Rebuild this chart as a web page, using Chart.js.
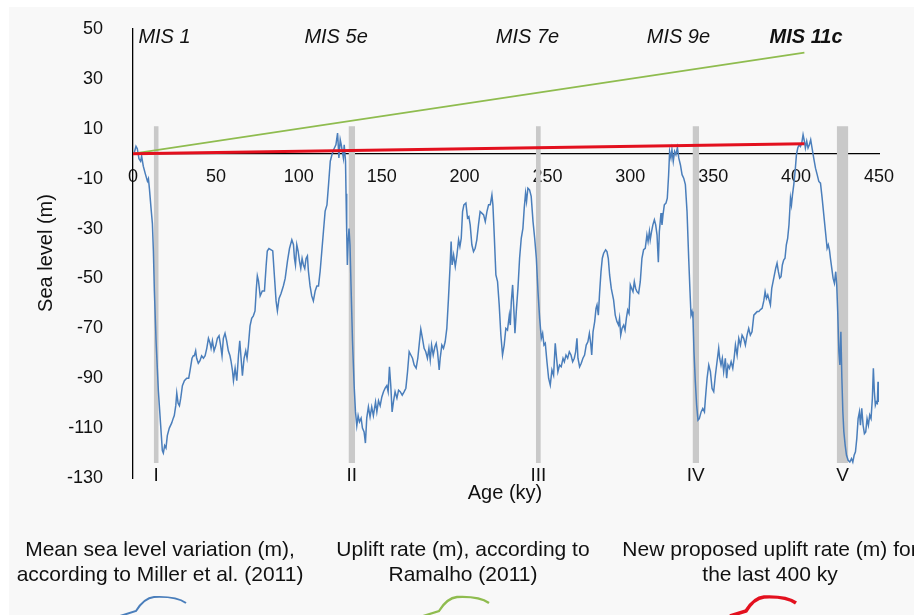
<!DOCTYPE html>
<html>
<head>
<meta charset="utf-8">
<script src="https://cdn.jsdelivr.net/npm/chart.js@4.4.1/dist/chart.umd.min.js"></script>
<style>
  html, body { margin: 0; padding: 0; background: #fff; }
</style>
</head>
<body>
<canvas id="seaChart" width="914" height="615"></canvas>
<script>
// ---- data ----
const ageKy = [
  0.6, 1.8, 2.6, 3.6, 4.6, 5.2, 6.2, 7.4, 8.7, 9.3, 9.9, 10.9, 11.7, 12.3, 12.9, 13.9, 15.3, 16.7, 17.7, 18.3,
  19.1, 19.9, 20.7, 21.9, 23.3, 24.3, 24.9, 25.8, 26.4, 27.2, 28, 28.8, 29.8, 31, 32.4, 33.6, 34.4, 35.6, 36.4, 37,
  37.8, 38.4, 39.4, 40.4, 41.4, 42.5, 43.5, 44.5, 45.5, 46.5, 47.1, 47.9, 48.9, 49.9, 50.9, 51.9, 52.9, 53.7, 54.5, 55.5,
  56.5, 57.5, 58.5, 59.1, 60, 60.6, 61.6, 62.6, 63.6, 64.4, 65.2, 66, 67, 68, 68.8, 69.6, 70.6, 71.6, 72.6, 73.6,
  74.4, 75, 75.7, 76.7, 78, 79.3, 80.3, 81, 82, 83.3, 84.3, 85.3, 86.3, 87.1, 88.1, 89.3, 90.7, 91.8, 93.2, 94.4,
  95.8, 96.8, 97.4, 98, 98.8, 99.6, 100.4, 101.2, 102, 102.8, 103.6, 104.4, 105.2, 105.8, 106.8, 107.8, 108.8, 109.9, 110.9, 111.9,
  112.9, 113.9, 114.9, 115.9, 117, 118, 119, 120, 121, 122.4, 123.4, 123.8, 124.2, 125, 125.6, 126.9, 127.4, 128.2, 128.5, 128.9,
  129.3, 129.8, 130.3, 130.9, 131.6, 132.4, 133.4, 134.2, 135, 135.8, 136.6, 137.6, 138.4, 139.4, 140.2, 141, 142, 143, 144, 145,
  146.3, 147.1, 148.1, 149.1, 150.1, 151.1, 152.1, 153.1, 153.9, 154.7, 155.5, 156.3, 157.1, 158.1, 159.2, 160.2, 161.2, 162.4, 163.6, 164.6,
  165.6, 166.6, 167.6, 168.6, 169.6, 170.8, 171.8, 172.8, 173.6, 174.6, 175.6, 176.6, 177.6, 178.5, 179.3, 180.1, 181.1, 182.1, 182.9, 183.7,
  184.7, 185.3, 186.3, 187.3, 188.3, 189.3, 190.3, 191.3, 191.9, 192.5, 193.4, 194.4, 195.4, 196.4, 197.2, 198, 198.8, 199.6, 200.8, 201.8,
  202.6, 203.4, 204.4, 205.4, 206.4, 207.4, 208.4, 209.4, 210.4, 211.5, 212.5, 213.5, 214.5, 215.5, 216.5, 217.1, 217.9, 218.9, 219.9, 220.9,
  221.9, 222.9, 223.9, 224.9, 225.9, 227, 227.6, 228.2, 229, 229.6, 230.4, 231.2, 232.2, 233.2, 234.2, 235.2, 236, 236.8, 237.4, 238.2,
  239.2, 240.2, 241.3, 242.3, 243.3, 244.3, 245.3, 246.3, 247.1, 247.9, 248.7, 249.7, 250.7, 251.7, 252.7, 253.7, 254.7, 255.5, 256.3, 257.3,
  258.3, 259.4, 260.2, 261.2, 262.2, 263.2, 264.2, 265.2, 266.2, 267, 267.8, 268.4, 269.4, 270.4, 271.4, 272.4, 273.4, 274.4, 275.3, 276.1,
  276.7, 277.5, 278.5, 279.3, 279.9, 280.7, 281.5, 282.3, 283.1, 283.9, 285.1, 285.9, 286.7, 287.5, 288.5, 289.1, 289.9, 290.9, 291.9, 292.9,
  293.5, 294.2, 295, 296, 296.8, 297.6, 298.4, 299.2, 300, 300.8, 301.6, 302.4, 303.2, 304, 305, 306, 307, 308, 309, 310,
  310.7, 311.5, 312, 312.8, 313.6, 314.5, 315.3, 316.1, 316.9, 317.5, 318.5, 319.1, 319.7, 320.5, 321.5, 322.3, 323.1, 323.7, 324.5, 325.1,
  325.9, 326.7, 327.5, 328.4, 329.2, 330.2, 331.2, 332.2, 333.2, 334.2, 335.2, 336, 336.6, 337.2, 337.8, 338.4, 339.2, 340, 340.8, 341.6,
  342.7, 343.7, 344.7, 345.3, 346.3, 347.3, 348.3, 349.3, 350.3, 351.3, 352.3, 353.3, 353.9, 354.7, 355.5, 356.3, 357.3, 358.1, 358.9, 359.8,
  360.8, 361.8, 362.6, 363.4, 364.4, 365.4, 366.4, 367.4, 368.4, 369.4, 370.4, 371.4, 372.4, 373.4, 374.5, 375.5, 376.5, 377.5, 378.5, 379.5,
  380.5, 381.3, 382.1, 382.9, 383.7, 384.5, 385.3, 386.1, 386.9, 387.7, 388.5, 389.3, 390.1, 390.9, 391.7, 392.5, 393.3, 394.1, 394.9, 395.7,
  396.6, 397.2, 397.8, 398.6, 399.4, 400.2, 401, 401.8, 402.6, 403.4, 404.2, 405, 405.6, 406.4, 407.2, 408, 408.8, 409.6, 410.6, 411.7,
  412.7, 413.7, 414.7, 415.7, 416.7, 417.7, 418.7, 419.4, 420.1, 420.7, 421.5, 422.3, 423.1, 423.9, 424.5, 425.1, 425.8, 426.4, 427, 427.6,
  428.2, 428.8, 429.6, 430.4, 431.4, 432.4, 433.4, 434.2, 435, 435.8, 436.6, 437.4, 438.2, 438.8, 439.6, 440.4, 441.2, 442, 442.8, 443.6,
  444.4, 445.2, 446, 446.6, 447.2, 447.8, 448.4, 449, 449.4, 449.8
];
const seaLevel = [
  0, 3, 2, -2, -3, -1, -5, -8, -11, -10, -14, -22, -28, -39, -55, -75, -95, -109, -119, -120,
  -117, -118, -113, -110, -108, -106, -105, -101, -96, -100, -101, -98, -93, -91, -90, -90, -87, -82, -81, -81,
  -79, -82, -84, -83, -81, -82, -81, -78, -74, -76, -78, -75, -79, -77, -74, -73, -77, -81, -74, -72,
  -75, -79, -81, -83, -87, -91, -86, -91, -81, -75, -82, -89, -82, -79, -82, -77, -69, -66, -65, -63,
  -54, -49, -51, -57, -55, -55, -45, -39, -38, -38.5, -39, -49, -59, -63, -58, -56, -53, -50, -43, -38,
  -34.5, -36.5, -42, -44.6, -36.5, -39, -43, -46, -42, -44.6, -46, -42, -41, -47, -53, -57, -59, -55, -53, -53,
  -47, -39, -31, -23, -20.5, -12, -3, -0.4, 1.6, 3.6, 8.3, 3.6, -1.7, 5.6, 3.6, -1.7, 3.6, -3, -16, -31,
  -44.6, -35, -30, -36.5, -55, -75, -93, -103.5, -109, -105, -107.5, -106, -110, -111.5, -116, -106, -101.5, -105.5, -101.5, -105,
  -99.5, -103.5, -99, -101, -97.5, -95.4, -94, -93, -95.4, -85.4, -93, -103.5, -99.5, -95.4, -98, -94.8, -95.4, -96.8, -95.4, -94,
  -87.4, -79.4, -80.7, -82, -84.7, -86, -82, -75.4, -70.3, -74, -78, -79.4, -82, -78, -82.7, -76.7, -80.7, -77.4, -76, -79.4,
  -86.7, -82, -76.7, -78, -75.4, -70, -58, -44.6, -35.2, -44.6, -40.6, -45.2, -40.6, -34.5, -37.2, -33.9, -23.2, -20.5, -19.8, -25.8,
  -25.2, -28.5, -36.5, -39.2, -37.9, -34.5, -28.5, -23.2, -23.8, -24.5, -27.2, -23.2, -20.5, -20.5, -16.5, -20.5, -32.5, -48.6, -51.3, -60.6,
  -72.7, -80.7, -76.7, -70, -70.7, -64.7, -68.7, -59.3, -52.6, -60.6, -72, -63.3, -54, -41.9, -33.9, -29.9, -21.8, -15.8, -19.1, -13.8,
  -14.5, -17.1, -27.2, -33.9, -41.9, -55.3, -66, -74, -72, -76.7, -76, -83.4, -90, -92.8, -86.7, -88.8, -76, -82, -87.4, -84.7,
  -85.4, -82, -83.4, -80.7, -82, -79.4, -80.7, -83.4, -82, -79.4, -74, -82, -85.4, -84, -82, -80.7, -76.7, -75.4, -72, -76,
  -80.7, -71.4, -67.3, -62, -60.6, -64.7, -55.3, -47.3, -41.9, -39.9, -38.5, -39.2, -41.9, -48.6, -54, -56, -58.6, -64.7, -67.3, -68.7,
  -66, -72.7, -70, -68.7, -70.7, -66, -62.7, -64, -52.6, -54, -55.3, -51.3, -54, -55.3, -56, -51.3, -41.9, -38.5, -37.9, -32.5,
  -35.2, -31.2, -34.5, -31.2, -28.5, -26.5, -28.5, -32.5, -43.5, -31.2, -23.8, -28.5, -24.5, -20.5, -19.8, -17.8, -8.4, 0.9, -1.7, 1.6,
  -3.1, 0.9, -0.4, 2.5, -1.7, -4.4, -8.4, -9.8, -12.4, -23.2, -41.9, -55.3, -64.7, -63.3, -66, -79.4, -91.4, -100.8, -106.8, -106.2,
  -103.5, -102.1, -103.5, -98.1, -90, -84.7, -87.4, -94.1, -95.4, -88.8, -83.4, -78, -82, -84.7, -82, -87.4, -82, -90, -84.7, -86,
  -83.4, -86, -82, -76.7, -80.7, -74, -76.7, -72.7, -74, -76.7, -72.7, -70, -72.7, -71.4, -64.7, -64, -63.3, -63.3, -62.5, -62,
  -59, -55.3, -58, -56.6, -58.6, -60.6, -54, -51.3, -48.6, -45.9, -43.9, -47.3, -49.9, -49.3, -44.6, -42.6, -41.9, -36.5, -33.9, -28.5,
  -17.8, -20.5, -16.5, -12.4, -7.1, -0.4, 2.3, 3.6, 2.9, 4.3, 7.6, 5, 2.3, 5, 2.3, 3.6, 5.6, 2.3, -1.7, -5.8,
  -8.4, -11.1, -11.8, -17.8, -24.5, -31.2, -37.9, -36.5, -38.5, -41.9, -45.9, -49.9, -51.9, -47.3, -52.6, -63.3, -79.4, -84.7, -71.4, -90,
  -103.5, -111.5, -116.9, -120.9, -122.9, -123.6, -122.2, -123.6, -120.9, -119.5, -114.2, -106.2, -103.5, -108.8, -102.1, -108.8, -112.2, -111.5, -106.2, -108.8,
  -104.8, -106.2, -98.1, -86, -95.4, -100.8, -99.5, -100, -91.4, -99.5
];

// straight uplift lines (start and end age)
const upliftAge = [0, 405];
const upliftRamalho = [0, 40.5];
const upliftNew = [0, 4];

// grey bands (terminations)
const bandStart = [12.5, 130, 243, 337.5, 424.5];
const bandEnd = [15.5, 134, 246, 341.5, 431.5];
const bandTop = 11;
const bandBottom = -124;
const terminations = ["I", "II", "III", "IV", "V"];

const misLabels = ["MIS 1", "MIS 5e", "MIS 7e", "MIS 9e", "MIS 11c"];
const misAge = [19, 122.5, 238, 329, 406];

const xTicks = [0, 50, 100, 150, 200, 250, 300, 350, 400, 450];
const yTicks = [-130, -110, -90, -70, -50, -30, -10, 10, 30, 50];

const seriesLabels = [
  ["Mean sea level variation (m),", "according to Miller et al. (2011)"],
  ["Uplift rate (m), according to", "Ramalho (2011)"],
  ["New proposed uplift rate (m) for", "the last 400 ky"]
];

const FONT = '"Liberation Sans", Arial, sans-serif';
Chart.defaults.font.family = FONT;
Chart.defaults.color = '#111';

const toPoints = (xs, ys) => xs.map((v, i) => ({ x: v, y: ys[i] }));

const bandSets = bandStart.map((s, i) => ({
  label: 'band ' + terminations[i],
  data: [{ x: s, y: bandTop }, { x: bandEnd[i], y: bandTop }],
  borderWidth: 0,
  pointRadius: 0,
  backgroundColor: '#c9c9c9',
  fill: { value: bandBottom },
  order: 10
}));

const lineSets = [
  {
    label: seriesLabels[0].join(' '),
    data: toPoints(ageKy, seaLevel),
    borderColor: '#4a7ebb',
    borderWidth: 1.5,
    order: 3
  },
  {
    label: seriesLabels[1].join(' '),
    data: toPoints(upliftAge, upliftRamalho),
    borderColor: '#8fbc4f',
    borderWidth: 1.8,
    order: 2
  },
  {
    label: seriesLabels[2].join(' '),
    data: toPoints(upliftAge, upliftNew),
    borderColor: '#e3101e',
    borderWidth: 3,
    order: 1
  }
];
lineSets.forEach(d => { d.pointRadius = 0; d.fill = false; d.tension = 0; });

// background, labels, axis titles and the legend underneath
const figureDecor = {
  id: 'figureDecor',
  beforeDraw(chart) {
    const ctx = chart.ctx;
    ctx.save();
    ctx.fillStyle = '#ffffff';
    ctx.fillRect(0, 0, chart.width, chart.height);
    ctx.fillStyle = '#f8f8f8';
    ctx.fillRect(9, 7, chart.width - 9, chart.height - 7);
    ctx.restore();
  },
  afterDraw(chart) {
    const { ctx } = chart;
    const x = chart.scales.x, y = chart.scales.y;
    ctx.save();
    ctx.fillStyle = '#111';
    ctx.textAlign = 'center';
    ctx.textBaseline = 'middle';

    misLabels.forEach((t, i) => {
      const bold = i === misLabels.length - 1 ? 'bold ' : '';
      ctx.font = 'italic ' + bold + '20px ' + FONT;
      ctx.fillText(t, x.getPixelForValue(misAge[i]), y.getPixelForValue(46.5));
    });

    ctx.font = '19px ' + FONT;
    terminations.forEach((t, i) => {
      ctx.fillText(t, x.getPixelForValue((bandStart[i] + bandEnd[i]) / 2), y.getPixelForValue(-129));
    });

    // axis titles
    ctx.font = '20px ' + FONT;
    ctx.fillText('Age (ky)', 505, 493);
    ctx.save();
    ctx.translate(46, 253);
    ctx.rotate(-Math.PI / 2);
    ctx.fillText('Sea level (m)', 0, 0);
    ctx.restore();

    // legend
    const legendX = [160, 463, 770];
    ctx.font = '21px ' + FONT;
    seriesLabels.forEach((lines, i) => {
      lines.forEach((line, j) => ctx.fillText(line, legendX[i], 550 + j * 25));
      const ds = lineSets[i];
      const cx = legendX[i] - 4;
      ctx.strokeStyle = ds.borderColor;
      ctx.lineWidth = ds.borderWidth + 0.5;
      ctx.beginPath();
      ctx.moveTo(cx - 36, 616);
      ctx.lineTo(cx - 20, 611);
      ctx.quadraticCurveTo(cx - 12, 598, cx - 2, 597);
      ctx.quadraticCurveTo(cx + 20, 596, cx + 30, 603);
      ctx.stroke();
    });
    ctx.restore();
  }
};

new Chart(document.getElementById('seaChart'), {
  type: 'line',
  data: { datasets: [...bandSets, ...lineSets] },
  options: {
    responsive: false,
    animation: false,
    devicePixelRatio: 1,
    layout: { padding: { top: 29, right: 35, bottom: 137, left: 0 } },
    plugins: {
      legend: { display: false },
      tooltip: { enabled: false }
    },
    scales: {
      x: {
        type: 'linear',
        position: { y: 0 },
        min: 0,
        max: 450,
        afterBuildTicks: s => { s.ticks = xTicks.map(v => ({ value: v })); },
        afterFit: s => {
          s.height = 0;
          s.paddingTop = s.paddingBottom = s.paddingLeft = s.paddingRight = 0;
        },
        grid: { drawOnChartArea: false, drawTicks: false },
        border: { color: '#000', width: 1.3 },
        ticks: { padding: 13, font: { size: 18 }, color: '#111', maxRotation: 0 }
      },
      y: {
        type: 'linear',
        position: 'left',
        min: -130,
        max: 50,
        afterBuildTicks: s => { s.ticks = yTicks.map(v => ({ value: v })); },
        afterFit: s => {
          s.width = 133;
          s.paddingTop = s.paddingBottom = 0;
        },
        grid: { drawOnChartArea: false, drawTicks: false },
        border: { color: '#000', width: 1.3 },
        ticks: { padding: 30, font: { size: 18 }, color: '#111' }
      }
    }
  },
  plugins: [figureDecor]
});
</script>
</body>
</html>
